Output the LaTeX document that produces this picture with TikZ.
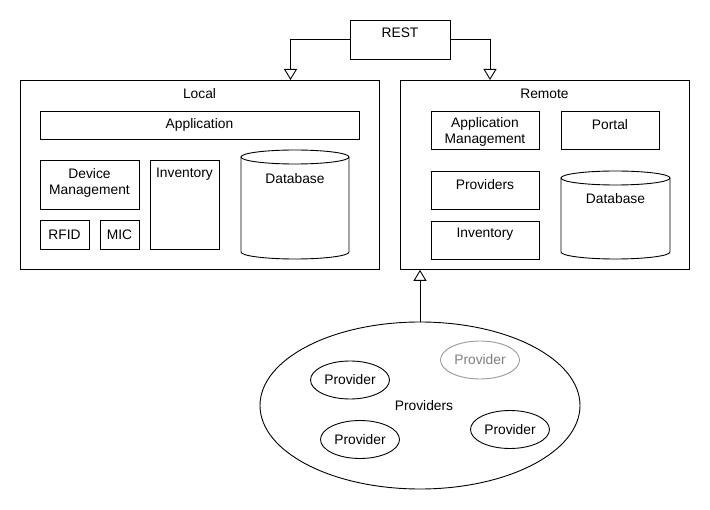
\documentclass[tikz,border=0pt]{standalone}
\usepackage{fontspec}
\setmainfont{Liberation Sans}
\usetikzlibrary{arrows.meta,shapes.geometric}
\begin{document}
\begin{tikzpicture}[x=1pt,y=-1pt,line width=0.9pt,
  box/.style={draw,rectangle,inner sep=0pt,anchor=north west},
  txt/.style={font=\fontsize{13.8}{16}\selectfont,align=center,inner sep=0pt},
  pell/.style={draw,ellipse,inner sep=0pt,minimum width=79pt,minimum height=38pt,font=\fontsize{13.8}{16}\selectfont},
  opentip/.style={-{Triangle[open,length=11pt,width=13pt,fill=white]}}]
\useasboundingbox[fill=white] (0,0) rectangle (710,510);
% REST
\node[box,minimum width=100pt,minimum height=39pt] (rest) at (350,20) {};
\node[txt] (resttxt) at (400,32.5) {REST};
% Local
\node[box,minimum width=359pt,minimum height=189pt] (local) at (20,80) {};
\node[txt] (localtxt) at (199.5,93.5) {Local};
\node[box,minimum width=319pt,minimum height=28pt] (lapp) at (40,111) {};
\node[txt] (lapptxt) at (199.5,124.5) {Application};
\node[box,minimum width=99pt,minimum height=49pt] (ldev) at (40,160) {};
\node[txt] (ldevtxt) at (89.5,182.5) {Device\\Management};
\node[box,minimum width=49pt,minimum height=29pt] (rfid) at (40,220) {};
\node[txt] (rfidtxt) at (64.5,235) {RFID};
\node[box,minimum width=39pt,minimum height=29pt] (mic) at (100,220) {};
\node[txt] (mictxt) at (119.5,235) {MIC};
\node[box,minimum width=69pt,minimum height=89pt] (linv) at (150,160) {};
\node[txt] (linvtxt) at (184.5,174.5) {Inventory};
% Local database cylinder
\draw (241,157) -- (241,252) arc[start angle=180,end angle=360,x radius=54pt,y radius=7pt] -- (349,157);
\draw (295,157) ellipse[x radius=54pt,y radius=7pt];
\node[txt] (ldbtxt) at (295,178.5) {Database};
% Remote
\node[box,minimum width=289pt,minimum height=189pt] (remote) at (400,80) {};
\node[txt] (remotetxt) at (544.5,93.5) {Remote};
\node[box,minimum width=108pt,minimum height=38pt] (rapp) at (431,111) {};
\node[txt] (rapptxt) at (485,131.5) {Application\\Management};
\node[box,minimum width=98pt,minimum height=38pt] (portal) at (561,111) {};
\node[txt] (portaltxt) at (610,124.5) {Portal};
\node[box,minimum width=108pt,minimum height=38pt] (rprov) at (431,171) {};
\node[txt] (rprovtxt) at (485,184.5) {Providers};
\node[box,minimum width=108pt,minimum height=38pt] (rinv) at (431,221) {};
\node[txt] (rinvtxt) at (485,234.5) {Inventory};
% Remote database cylinder
\draw (561,178) -- (561,252) arc[start angle=180,end angle=360,x radius=54.5pt,y radius=7pt] -- (670,178);
\draw (615.5,178) ellipse[x radius=54.5pt,y radius=7pt];
\node[txt] (rdbtxt) at (615.5,198.5) {Database};
% Providers cloud
\node[draw,ellipse,inner sep=0pt,minimum width=320pt,minimum height=167pt] (provs) at (420,405.5) {};
\node[txt] (provstxt) at (424,406) {Providers};
\node[pell] (p1) at (350,380) {Provider};
\node[pell,draw=black!40,text=black!50] (p2) at (480,360) {Provider};
\node[pell] (p3) at (360,439.5) {Provider};
\node[pell] (p4) at (510,429.5) {Provider};
% Connectors
\coordinate (lin) at (290.5,80);
\coordinate (rin) at (490,80);
\draw[opentip] (rest.west) -| (lin);
\draw[opentip] (rest.east) -| (rin);
\draw[opentip] (provs.north) -- (provs.north |- remote.south);
\end{tikzpicture}
\end{document}
